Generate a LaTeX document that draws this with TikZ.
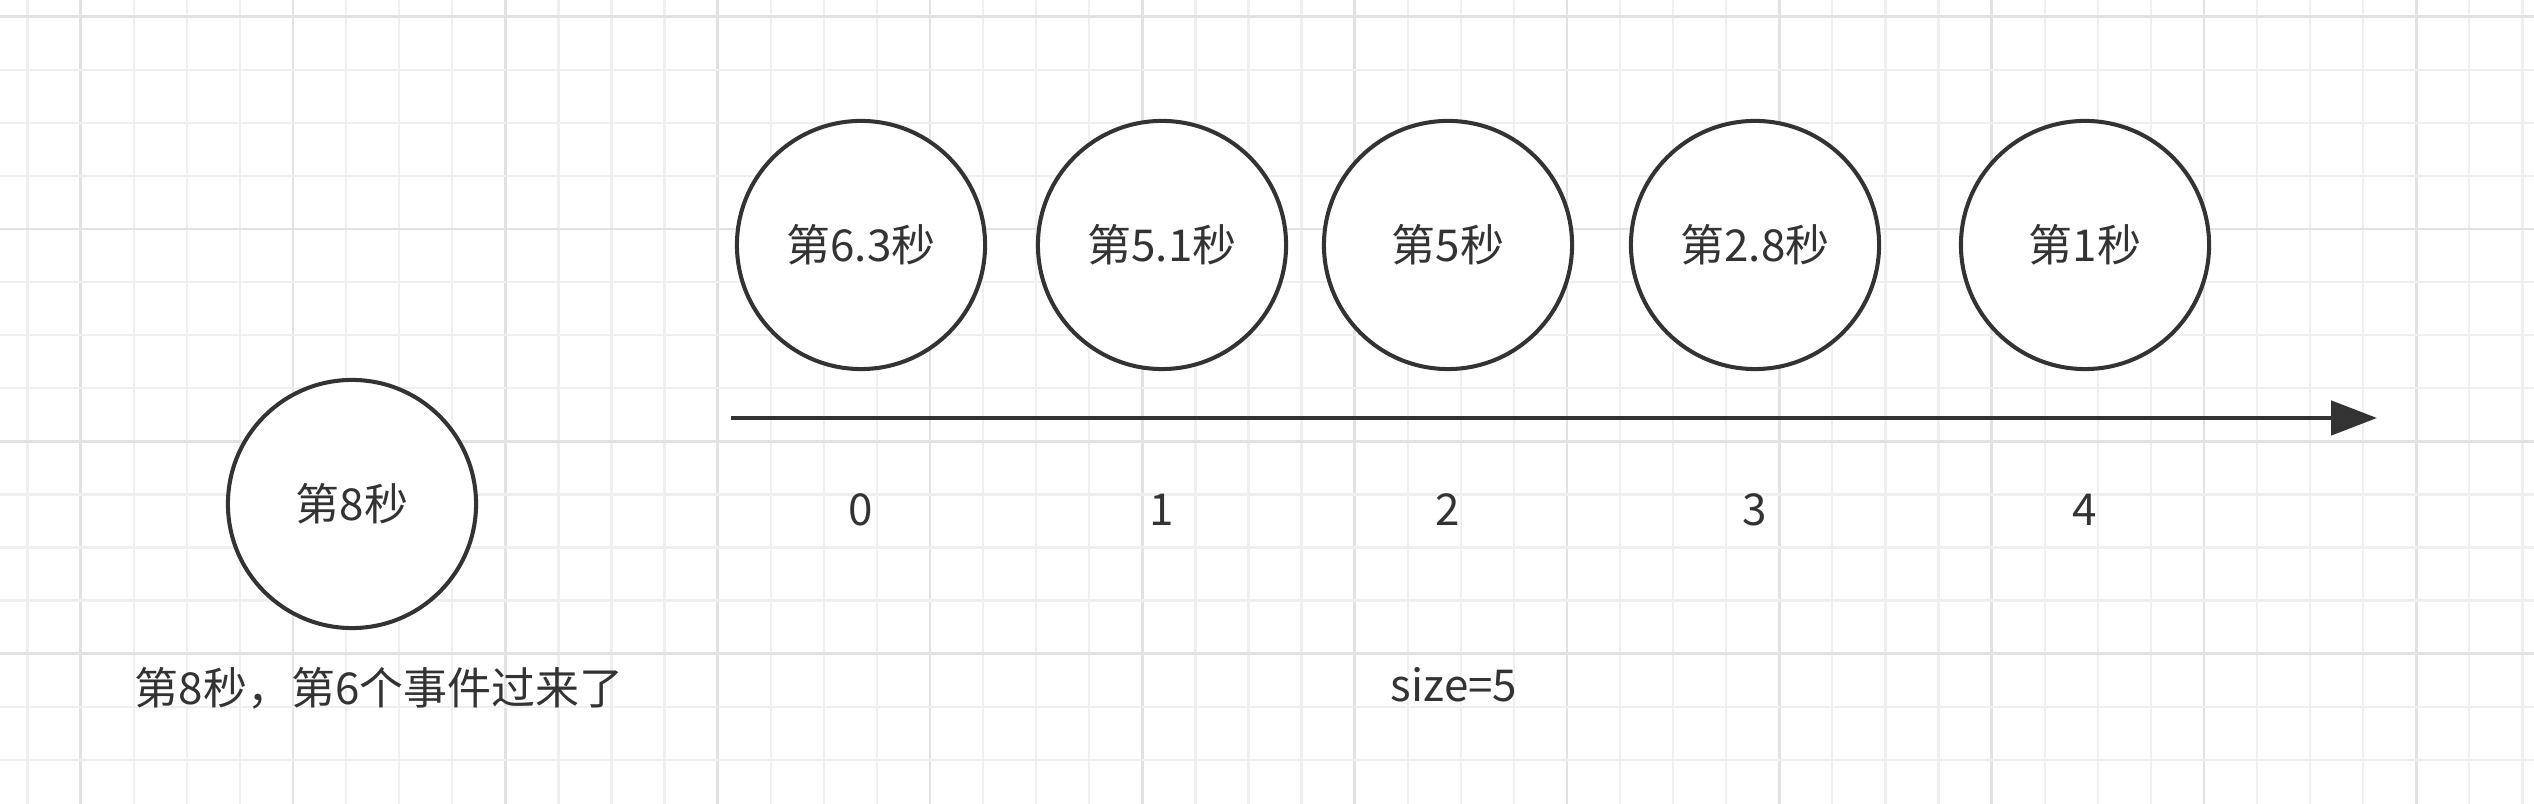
\documentclass[tikz,border=0pt]{standalone}
\usepackage{fontspec}
\setmainfont{Noto Sans CJK SC}
\usetikzlibrary{arrows.meta,positioning}
\definecolor{ink}{HTML}{333333}
\definecolor{gridminor}{HTML}{EFEFEF}
\definecolor{gridmajor}{HTML}{E2E2E2}
\tikzset{
	evt/.style={circle,draw=ink,line width=1.15pt,fill=white,minimum size=2.48cm,inner sep=0pt,text=ink,font=\fontsize{12.5}{15}\selectfont},
	lbl/.style={text=ink,inner sep=0pt,font=\fontsize{12.5}{15}\selectfont},
	timeline/.style={draw=ink,line width=1.4pt,-{Triangle[length=4.6mm,width=3.4mm]}}
}

\begin{document}
\begin{tikzpicture}[x=0.01cm,y=-0.01cm]
	\useasboundingbox (0,0) rectangle (2534,804);
	\fill[white] (0,0) rectangle (2534,804);
	% background grid
	\foreach \k in {0,...,47}{
		\pgfmathsetmacro{\gx}{27.6+53.08*\k}
		\pgfmathtruncatemacro{\gm}{mod(\k,4)}
		\ifnum\gm=1 \draw[gridmajor,line width=0.75pt] (\gx,0)--(\gx,804);
		\else \draw[gridminor,line width=0.65pt] (\gx,0)--(\gx,804); \fi
	}
	\foreach \k in {0,...,15}{
		\pgfmathsetmacro{\gy}{16.7+53.08*\k}
		\pgfmathtruncatemacro{\gm}{mod(\k,4)}
		\ifnum\gm=0 \draw[gridmajor,line width=0.75pt] (0,\gy)--(2534,\gy);
		\else \draw[gridminor,line width=0.65pt] (0,\gy)--(2534,\gy); \fi
	}
	% the new event
	\node[evt] (e8) at (352,504) {第8秒};
	\node[lbl] (note) at (379,688) {第8秒，第6个事件过来了};
	% the window
	\node[evt] (s0) at (861,245) {第6.3秒};
	\node[evt] (s1) at (1162,245) {第5.1秒};
	\node[evt] (s2) at (1448,245) {第5秒};
	\node[evt] (s3) at (1755,245) {第2.8秒};
	\node[evt] (s4) at (2085,245) {第1秒};
	\coordinate (tstart) at (731,418);
	\coordinate (tend) at (2377,418);
	\draw[timeline] (tstart) -- (tend);
	\node[lbl] (i0) at (861,510) {0};
	\node[lbl] (i1) at (1162,510) {1};
	\node[lbl] (i2) at (1448,510) {2};
	\node[lbl] (i3) at (1755,510) {3};
	\node[lbl] (i4) at (2085,510) {4};
	\node[lbl] (size) at (1454,685) {size=5};
\end{tikzpicture}
\end{document}
